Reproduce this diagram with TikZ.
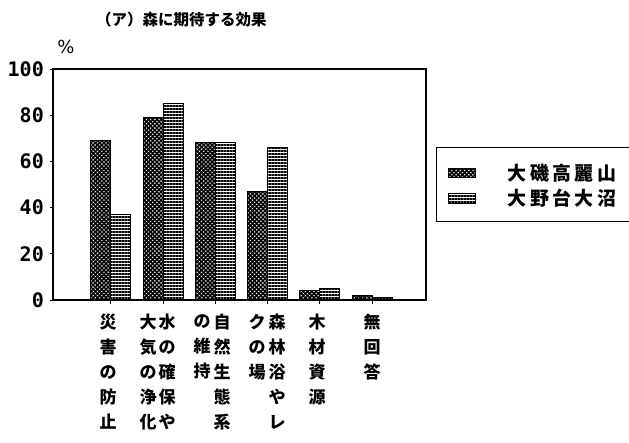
\documentclass[tikz,border=0pt]{standalone}
\usepackage{fontspec}
\newfontfamily\jp{Noto Sans CJK JP}
\newfontfamily\numfont{DejaVu Sans Mono}
\newfontfamily\unitfont{DejaVu Sans}
\usetikzlibrary{patterns.meta,positioning}

\tikzset{
  frame/.style={line width=1.6pt},
  crossbar/.style={draw, line width=1pt, pattern={Hatch[angle=45,distance=3pt,line width=1.6pt]}},
  linebar/.style={draw, line width=1pt, pattern={Lines[angle=0,distance=3pt,line width=1.5pt]}},
  ticklabel/.style={font=\numfont\bfseries\fontsize{20}{20}\selectfont, anchor=east, inner sep=0pt},
  catlabel/.style={font=\jp\bfseries\fontsize{17}{25}\selectfont, align=center, anchor=north, inner sep=0pt},
  legendtext/.style={font=\jp\bfseries\fontsize{19}{19}\selectfont\addfontfeature{LetterSpace=18}, anchor=west, inner sep=0pt},
}

\begin{document}
\begin{tikzpicture}[x=1pt,y=-1pt]
  \useasboundingbox (0,0) rectangle (629,442);
  \node[font=\jp\bfseries\fontsize{15.5}{15.5}\selectfont, anchor=west, inner sep=0pt] (title) at (96,20) {（ア）森に期待する効果};
  \node[font=\unitfont\fontsize{18}{18}\selectfont, inner sep=0pt] (unit) at (66,47) {\%};
  % bars
  \foreach \l/\a/\b in {90/69/37,143/79/85,195/68/68,247/47/66,299/4/5,352/2/1}{
    \draw[crossbar] (\l,300) rectangle ({\l+20},{300-2.31*\a});
    \draw[linebar] ({\l+20},300) rectangle ({\l+40},{300-2.31*\b});
    \draw[line width=1pt] ({\l+20},300) -- ({\l+20},304);
  }
  \foreach \v in {0,20,...,100}{
    \node[ticklabel] (y\v) at (44,{300-2.31*\v}) {\v};
    \draw[line width=1pt] (50,{300-2.31*\v}) -- (53,{300-2.31*\v});
  }
  \draw[frame] (53,69) rectangle (426,300);
  % categories
  \node[catlabel] (c1) at (108,314) {災\\害\\の\\防\\止};
  \node[catlabel] (c2a) at (148,314) {大\\気\\の\\浄\\化};
  \node[catlabel] (c2b) at (167,314) {水\\の\\確\\保\\や};
  \node[catlabel] (c3a) at (202,314) {の\\維\\持};
  \node[catlabel] (c3b) at (222,314) {自\\然\\生\\態\\系};
  \node[catlabel] (c4a) at (257,314) {ク\\の\\場};
  \node[catlabel] (c4b) at (277,314) {森\\林\\浴\\や\\レ};
  \node[catlabel] (c5) at (317,314) {木\\材\\資\\源};
  \node[catlabel] (c6) at (372,314) {無\\回\\答};
  % legend
  \draw[line width=1pt] (632,147) -- (436,147) -- (436,221) -- (632,221);
  \node[crossbar, line width=0.8pt, minimum width=27pt, minimum height=9pt, inner sep=0pt] (sw1) at (461.5,173) {};
  \node[linebar, line width=0.8pt, minimum width=27pt, minimum height=10pt, inner sep=0pt] (sw2) at (461.5,198) {};
  \node[legendtext, right=32pt of sw1] (lg1) {大磯高麗山};
  \node[legendtext, right=32pt of sw2] (lg2) {大野台大沼};
\end{tikzpicture}
\end{document}
